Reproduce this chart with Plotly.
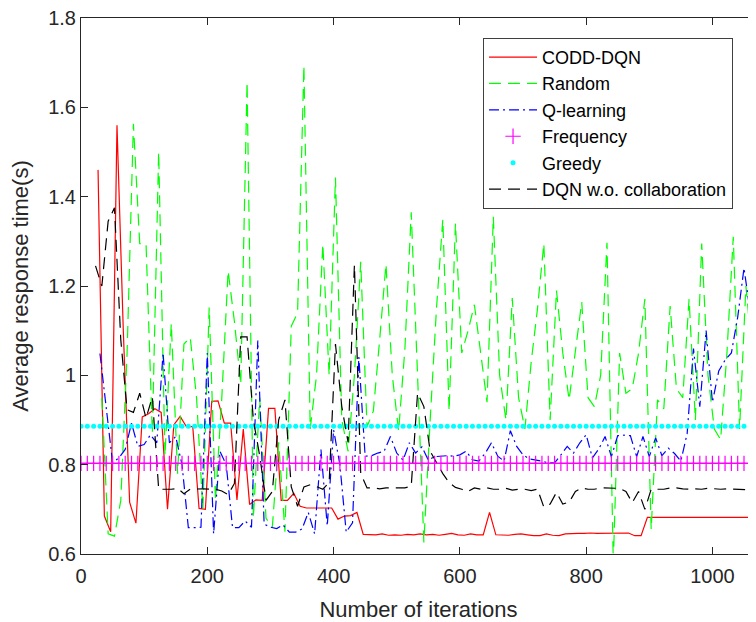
import plotly.graph_objects as go

# ---------------- data ----------------
codd_x = list(range(27, 1068, 10))
codd_y = [1.46, 0.685, 0.65, 1.56, 1.10, 0.716, 0.669, 0.907, 0.914, 0.925,
          0.917, 0.70, 0.889, 0.908, 0.885, 0.885, 0.702, 0.70, 0.942, 0.943,
          0.893, 0.893, 0.721, 0.880, 0.711, 0.721, 0.72, 0.926, 0.926, 0.72,
          0.72, 0.736, 0.707, 0.703, 0.703, 0.703, 0.703, 0.703, 0.678, 0.685,
          0.686, 0.693, 0.644, 0.643, 0.643, 0.645, 0.642, 0.643, 0.642, 0.644,
          0.643, 0.645, 0.643, 0.644, 0.642, 0.644, 0.646, 0.643, 0.642, 0.645,
          0.643, 0.643, 0.693, 0.643, 0.643, 0.642, 0.644, 0.645, 0.643, 0.641,
          0.641, 0.645, 0.642, 0.641, 0.645, 0.646, 0.646, 0.646, 0.647, 0.646,
          0.646, 0.646, 0.646, 0.646, 0.647, 0.641, 0.641, 0.682, 0.682, 0.682,
          0.682, 0.682, 0.682, 0.682, 0.682, 0.682, 0.682, 0.682, 0.682, 0.682,
          0.682, 0.682, 0.682, 0.682, 0.682]

random_x = list(range(33, 1064, 10))
random_y = [0.95, 0.645, 0.64, 0.72, 1.05, 1.563, 1.295, 1.295, 0.87, 1.50,
            0.82, 1.116, 0.78, 1.07, 1.085, 0.95, 0.70, 1.152, 0.72, 0.95,
            1.234, 1.12, 0.98, 1.657, 0.68, 0.95, 0.68, 0.66, 0.85, 0.65,
            1.11, 1.14, 1.694, 0.88, 1.0, 1.294, 1.0, 1.443, 0.9, 0.83,
            1.0, 1.254, 0.885, 0.92, 1.08, 1.249, 1.0, 0.875, 1.06, 1.365,
            1.0, 0.626, 0.9, 1.15, 1.349, 0.92, 1.34, 1.05, 1.10, 1.158,
            1.05, 0.94, 1.355, 1.0, 0.9, 1.173, 0.95, 0.88, 1.03, 1.15,
            1.295, 0.9, 1.19, 1.05, 0.945, 1.05, 1.164, 0.95, 0.93, 1.0,
            1.297, 0.58, 1.05, 0.96, 0.97, 1.05, 1.171, 0.655, 0.945, 0.925,
            1.155, 0.97, 0.95, 1.171, 0.9, 1.295, 1.0, 0.88, 0.856, 1.05,
            1.31, 0.88, 1.2, 1.05]

qlearn_x = list(range(30, 1071, 10))
qlearn_y = [1.049, 0.93, 0.805, 0.815, 0.834, 0.893, 0.841, 0.845, 0.867, 0.849,
            1.05, 0.849, 0.863, 0.80, 0.659, 0.659, 0.66, 1.05, 0.645, 0.83,
            0.80, 0.659, 0.659, 0.674, 0.66, 1.078, 0.667, 0.66, 0.657, 0.665,
            0.649, 0.649, 0.656, 0.693, 0.645, 0.834, 0.663, 0.878, 0.80, 0.649,
            0.67, 1.041, 0.819, 0.82, 0.826, 0.83, 0.863, 0.826, 0.81, 0.849,
            0.826, 0.84, 0.81, 0.818, 0.819, 0.82, 0.819, 0.822, 0.83, 0.811,
            0.808, 0.825, 0.849, 0.819, 0.808, 0.876, 0.841, 0.822, 0.813, 0.811,
            0.808, 0.804, 0.804, 0.822, 0.841, 0.826, 0.849, 0.867, 0.815, 0.835,
            0.863, 0.818, 0.865, 0.866, 0.865, 0.818, 0.863, 0.818, 0.86, 0.82,
            0.837, 0.825, 0.808, 0.87, 1.06, 0.93, 1.10, 0.94, 1.01, 1.034,
            1.05, 1.13, 1.24, 1.14, 1.06]

dqn_x = list(range(23, 1064, 10))
dqn_y = [1.245, 1.20, 1.345, 1.375, 1.08, 0.923, 0.917, 0.96, 0.904, 0.952,
         0.745, 0.745, 0.745, 0.747, 0.735, 0.745, 0.746, 0.746, 0.745, 0.745,
         0.741, 0.733, 0.758, 1.086, 1.086, 0.90, 0.82, 0.72, 0.74, 0.90,
         0.945, 0.75, 0.707, 0.75, 0.755, 0.751, 0.745, 0.76, 1.07, 0.93,
         0.85, 1.247, 0.78, 0.748, 0.748, 0.746, 0.748, 0.748, 0.747, 0.748,
         0.752, 0.96, 0.93, 0.83, 0.805, 0.78, 0.76, 0.749, 0.745, 0.74,
         0.748, 0.745, 0.748, 0.745, 0.745, 0.747, 0.743, 0.745, 0.745, 0.742,
         0.745, 0.705, 0.712, 0.738, 0.712, 0.716, 0.74, 0.748, 0.745, 0.745,
         0.748, 0.748, 0.748, 0.747, 0.74, 0.715, 0.74, 0.70, 0.745, 0.745,
         0.745, 0.748, 0.748, 0.746, 0.745, 0.746, 0.745, 0.747, 0.746, 0.745,
         0.746, 0.745, 0.745, 0.744, 0.745]

baseline_x = list(range(0, 1071, 10))
frequency_value = 0.803
greedy_value = 0.886
frequency_y = [frequency_value] * len(baseline_x)
greedy_y = [greedy_value] * len(baseline_x)

x_ticks = [0, 200, 400, 600, 800, 1000]
y_ticks = [0.6, 0.8, 1.0, 1.2, 1.4, 1.6, 1.8]
x_range = [0, 1069]

# ---------------- figure ----------------
FONT = "Liberation Sans, Arial, Helvetica, sans-serif"
AX = "#262626"
LONG_DASH = "12px,7px"
DASH_DOT = "10px,4px,2px,4px"

fig = go.Figure()
fig.add_trace(go.Scatter(x=codd_x, y=codd_y, mode="lines", name="CODD-DQN",
                         line=dict(color="#FF0000", width=1.2)))
fig.add_trace(go.Scatter(x=random_x, y=random_y, mode="lines", name="Random",
                         line=dict(color="#00FF00", width=1.2, dash=LONG_DASH)))
fig.add_trace(go.Scatter(x=qlearn_x, y=qlearn_y, mode="lines", name="Q-learning",
                         line=dict(color="#0000FF", width=1.2, dash=DASH_DOT)))
fig.add_trace(go.Scatter(x=baseline_x, y=frequency_y, mode="markers", name="Frequency",
                         xaxis="x2",
                         marker=dict(symbol="cross-thin", size=11, color="#FF00FF",
                                     line=dict(color="#FF00FF", width=1.2))))
fig.add_trace(go.Scatter(x=baseline_x, y=greedy_y, mode="markers", name="Greedy",
                         marker=dict(symbol="circle", size=5, color="#00FFFF",
                                     line=dict(width=0))))
fig.add_trace(go.Scatter(x=dqn_x, y=dqn_y, mode="lines", name="DQN w.o. collaboration",
                         line=dict(color="#000000", width=1.2, dash=LONG_DASH)))

# the page body adds an 8px offset, so the figure is laid out 8px up/left
fig.update_layout(
    width=748, height=614,
    margin=dict(l=73, r=0, t=10, b=68, autoexpand=False),
    paper_bgcolor="white", plot_bgcolor="white",
    font=dict(family=FONT, size=20, color=AX),
    showlegend=True,
    legend=dict(x=0.5956, y=0.963, xanchor="left", yanchor="top",
                bgcolor="white", bordercolor="#404040", borderwidth=1,
                font=dict(family=FONT, size=18, color="#000000"),
                itemwidth=48, tracegroupgap=0),
    xaxis2=dict(overlaying="x", side="top", anchor="y", range=x_range,
                tickvals=x_ticks, ticks="inside", ticklen=7, tickcolor=AX,
                showticklabels=False, showline=True, linecolor=AX, linewidth=1,
                showgrid=False, zeroline=False, automargin=False),
)
fig.layout.xaxis.update(range=x_range, tickvals=x_ticks, ticks="inside", ticklen=7,
                        tickcolor=AX, showline=True, linecolor=AX, linewidth=1,
                        mirror=False, showgrid=False, zeroline=False, automargin=False,
                        ticklabelstandoff=4,
                        title=dict(text="Number of iterations", font=dict(size=22, color=AX)),
                        tickfont=dict(size=20, color=AX))
fig.update_yaxes(range=[0.6, 1.8], tickvals=y_ticks, ticks="inside", ticklen=7,
                 tickcolor=AX, showline=True, linecolor=AX, linewidth=1,
                 mirror=False, showgrid=False, zeroline=False, automargin=False,
                 ticklabeloverflow="allow",
                 title=dict(text="Average response time(s)", font=dict(size=22, color=AX)),
                 tickfont=dict(size=20, color=AX))

fig.write_html("out.html")
